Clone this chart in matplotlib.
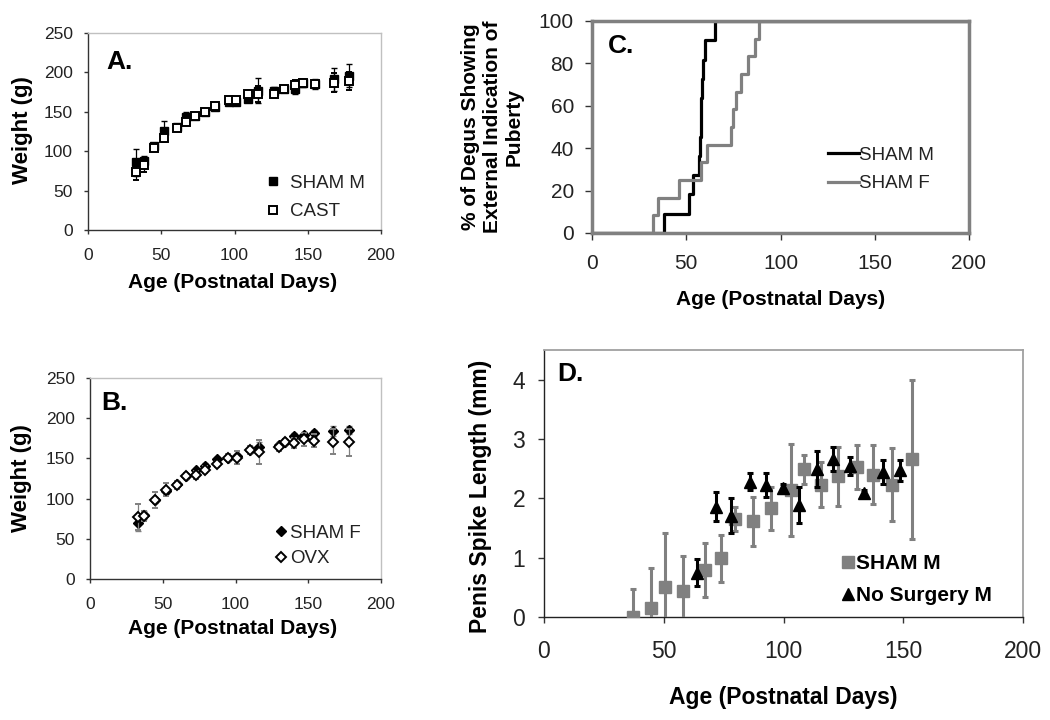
#Weight gain, puberty onset and penis spike length in degus
import matplotlib
matplotlib.use("Agg")
import matplotlib.pyplot as plt

plt.rcParams['font.family'] = ['Liberation Sans', 'DejaVu Sans']

# panel A: body weight, males (g)
ages_a = [33, 38, 45, 52, 61, 67, 73, 80, 87, 96, 101, 109, 116, 127, 134, 141, 147, 155, 168, 178]
sham_m_wt = [86, 88, 107, 126, 131, 143, 145, 150, 156, 163, 162, 166, 177, 177, 179, 179, 186, 185, 191, 196]
sham_m_err = [17, 6, 3, 12, 4, 7, 4, 3, 4, 3, 3, 4, 16, 4, 3, 6, 4, 6, 14, 15]
cast_wt = [74, 82, 104, 117, 129, 137, 145, 150, 157, 165, 165, 172, 173, 172, 179, 184, 186, 185, 187, 189]
cast_err = [11, 8, 4, 5, 3, 4, 3, 3, 3, 4, 4, 4, 10, 4, 3, 6, 5, 5, 12, 11]

# panel B: body weight, females (g)
ages_b = [33, 37, 45, 52, 60, 66, 73, 79, 87, 95, 101, 110, 116, 130, 134, 140, 147, 154, 167, 178]
sham_f_wt = [70, 80, 98, 110, 118, 128, 135, 141, 149, 151, 153, 161, 164, 167, 171, 178, 179, 181, 184, 185]
sham_f_err = [10, 5, 4, 4, 4, 3, 3, 3, 3, 3, 3, 4, 6, 3, 3, 4, 4, 4, 6, 5]
ovx_wt = [77, 78, 98, 111, 117, 128, 129, 136, 143, 151, 151, 160, 158, 164, 170, 169, 174, 172, 171, 170]
ovx_err = [16, 6, 10, 8, 5, 4, 5, 4, 4, 4, 8, 5, 15, 5, 4, 6, 8, 8, 15, 17]

# panel C: cumulative % showing puberty
sham_m_days = [0, 38, 51.5, 53.5, 56.5, 57.3, 57.7, 58, 58.5, 59, 60, 65, 200]
sham_m_pct = [0, 9.1, 18.2, 27.3, 36.4, 45.5, 54.5, 63.6, 72.7, 81.8, 90.9, 100, 100]
sham_f_days = [0, 32.5, 35, 46, 58, 61, 73.5, 75, 76.5, 79, 82.5, 86.5, 88.5, 200]
sham_f_pct = [0, 8.3, 16.7, 25, 33.3, 41.7, 50, 58.3, 66.7, 75, 83.3, 91.7, 100, 100]

# panel D: penis spike length (mm)
sham_d_age = [37, 44.5, 50.7, 57.9, 67.2, 73.9, 79.7, 87.4, 94.6, 103, 108.6, 115.5, 122.9, 130.6, 137.5, 145.2, 153.5]
sham_d_len = [0, 0.15, 0.5, 0.43, 0.79, 0.99, 1.65, 1.61, 1.83, 2.14, 2.49, 2.23, 2.37, 2.53, 2.40, 2.23, 2.66]
sham_d_err = [0.47, 0.67, 0.92, 0.6, 0.46, 0.4, 0.2, 0.41, 0.36, 0.78, 0.24, 0.38, 0.5, 0.37, 0.5, 0.61, 1.34]
nosurg_age = [63.7, 71.7, 77.9, 86, 92.7, 99.7, 106.6, 113.8, 120.8, 127.8, 133.7, 141.7, 148.6]
nosurg_len = [0.75, 1.86, 1.71, 2.28, 2.23, 2.17, 1.89, 2.49, 2.66, 2.54, 2.09, 2.45, 2.47]
nosurg_err = [0.22, 0.24, 0.3, 0.14, 0.2, 0.08, 0.3, 0.3, 0.2, 0.15, 0.05, 0.2, 0.18]

W, H = 1050, 720
fig = plt.figure(figsize=(10.5, 7.2), dpi=100)

def px_axes(left, top, right, bottom):
    return fig.add_axes([left / W, 1 - bottom / H, (right - left) / W, (bottom - top) / H])

def style_frame(ax, axis_col, frame_col, frame_lw=1.0, axis_lw=1.0):
    for s in ['left', 'bottom']:
        ax.spines[s].set_color(axis_col)
        ax.spines[s].set_linewidth(axis_lw)
    for s in ['top', 'right']:
        ax.spines[s].set_color(frame_col)
        ax.spines[s].set_linewidth(frame_lw)
    ax.tick_params(top=False, right=False, direction='out', colors='#333333',
                   labelcolor='#222222', width=1)

gray = '#808080'

# ---------------- A ----------------
axA = px_axes(88, 33, 381, 230)
axA.errorbar(ages_a, sham_m_wt, yerr=sham_m_err, fmt='s', color='black', ms=5.5,
             ecolor='black', elinewidth=0.9, capsize=2.5, label='SHAM M', zorder=3)
axA.errorbar(ages_a, cast_wt, yerr=cast_err, fmt='s', color='black', mfc='white', mew=1.4,
             ms=5.5, ecolor='black', elinewidth=0.9, capsize=2.5, label='CAST', zorder=4)
axA.set_xlim(0, 200)
axA.set_ylim(0, 250)
axA.set_xticks([0, 50, 100, 150, 200])
axA.set_yticks([0, 50, 100, 150, 200, 250])
style_frame(axA, '#333333', '#c0c0c0')
axA.tick_params(axis='x', labelsize=12.5, length=3, pad=10)
axA.tick_params(axis='y', labelsize=12.5, length=3, pad=8)
axA.set_xlabel('Age (Postnatal Days)', fontsize=15, fontweight='bold', va='center')
axA.xaxis.set_label_coords(0.495, -0.269)
axA.set_ylabel('Weight (g)', fontsize=16, fontweight='bold', va='center')
axA.yaxis.set_label_coords(-0.225, 0.508)
h, l = axA.get_legend_handles_labels()
hA = [x[0] for x in h]
axA.legend(hA, l, loc='center left', bbox_to_anchor=(0.575, 0.165), frameon=False,
           fontsize=13.5, handlelength=0.8, handletextpad=0.5, labelspacing=0.6,
           borderpad=0, labelcolor='#222222')

# ---------------- B ----------------
axB = px_axes(90, 378, 381, 579)
axB.errorbar(ages_b, sham_f_wt, yerr=sham_f_err, fmt='D', color='black', ms=5.5,
             ecolor=gray, elinewidth=0.9, capsize=2.5, label='SHAM F', zorder=3)
axB.errorbar(ages_b, ovx_wt, yerr=ovx_err, fmt='D', color='black', mfc='white', mew=1.4,
             ms=5.5, ecolor=gray, elinewidth=0.9, capsize=2.5, label='OVX', zorder=4)
axB.set_xlim(0, 200)
axB.set_ylim(0, 250)
axB.set_xticks([0, 50, 100, 150, 200])
axB.set_yticks([0, 50, 100, 150, 200, 250])
style_frame(axB, '#333333', '#c0c0c0')
axB.tick_params(axis='x', labelsize=12.5, length=3, pad=10)
axB.tick_params(axis='y', labelsize=12.5, length=3, pad=8)
axB.set_xlabel('Age (Postnatal Days)', fontsize=15, fontweight='bold', va='center')
axB.xaxis.set_label_coords(0.49, -0.244)
axB.set_ylabel('Weight (g)', fontsize=16, fontweight='bold', va='center')
axB.yaxis.set_label_coords(-0.234, 0.50)
h, l = axB.get_legend_handles_labels()
hB = [x[0] for x in h]
axB.legend(hB, l, loc='center left', bbox_to_anchor=(0.6, 0.165), frameon=False,
           fontsize=13.5, handlelength=0.7, handletextpad=0.15, labelspacing=0.45,
           borderpad=0, labelcolor='#222222')

# ---------------- C ----------------
axC = px_axes(592, 21, 969, 233)
axC.plot(sham_m_days, sham_m_pct, drawstyle='steps-post', color='black', lw=2.3,
         label='SHAM M', zorder=3)
axC.plot(sham_f_days, sham_f_pct, drawstyle='steps-post', color=gray, lw=2.3,
         label='SHAM F', zorder=4)
axC.set_xlim(0, 200)
axC.set_ylim(0, 100)
axC.set_xticks([0, 50, 100, 150, 200])
axC.set_yticks([0, 20, 40, 60, 80, 100])
for s in axC.spines.values():
    s.set_color(gray)
    s.set_linewidth(2.5)
    s.set_zorder(5)
axC.tick_params(top=False, right=False, direction='out', colors='#333333',
                labelcolor='#222222', labelsize=15, length=5, width=1)
axC.tick_params(axis='x', pad=10)
axC.tick_params(axis='y', pad=8)
axC.set_xlabel('Age (Postnatal Days)', fontsize=15, fontweight='bold', va='center')
axC.xaxis.set_label_coords(0.5, -0.316)
axC.set_ylabel('% of Degus Showing\nExternal Indication of\nPuberty', fontsize=15,
               fontweight='bold', va='center', linespacing=1.2)
axC.yaxis.set_label_coords(-0.265, 0.5)
axC.legend(loc='center left', bbox_to_anchor=(0.6, 0.30), frameon=False, fontsize=13.5,
           handlelength=1.7, handletextpad=0.0, labelspacing=0.6, borderpad=0,
           labelcolor='#222222')

# ---------------- D ----------------
axD = px_axes(544, 350, 1023, 617)
axD.errorbar(sham_d_age, sham_d_len, yerr=sham_d_err, fmt='s', color=gray, ms=9,
             ecolor=gray, elinewidth=2.2, capsize=2.5, capthick=2.2, label='SHAM M', zorder=3)
axD.errorbar(nosurg_age, nosurg_len, yerr=nosurg_err, fmt='^', color='black', ms=9,
             ecolor='black', elinewidth=2.2, capsize=2.5, capthick=2.2, label='No Surgery M',
             zorder=4)
axD.set_xlim(0, 200)
axD.set_ylim(0, 4.5)
axD.set_xticks([0, 50, 100, 150, 200])
axD.set_yticks([0, 1, 2, 3, 4])
style_frame(axD, '#222222', '#a0a0a0', frame_lw=1.3)
axD.tick_params(labelsize=16.5, length=4.5)
axD.tick_params(axis='x', pad=12)
axD.tick_params(axis='y', pad=9)
axD.set_xlabel('Age (Postnatal Days)', fontsize=16.5, fontweight='bold', va='center')
axD.xaxis.set_label_coords(0.499, -0.303)
axD.set_ylabel('Penis Spike Length (mm)', fontsize=16.5, fontweight='bold', va='center')
axD.yaxis.set_label_coords(-0.133, 0.45)
h, l = axD.get_legend_handles_labels()
hD = [x[0] for x in h]
axD.legend(hD, l, loc='center left', bbox_to_anchor=(0.598, 0.14), frameon=False,
           prop={'size': 15, 'weight': 'bold'}, handlelength=0.7, handletextpad=0.05,
           labelspacing=0.6, borderpad=0)

# panel letters
for txt, x, y in [('A.', 106, 62), ('B.', 101, 403), ('C.', 608, 46), ('D.', 557, 374)]:
    fig.text(x / W, 1 - y / H, txt, fontsize=19, fontweight='bold', va='center', ha='left')

fig.savefig('out.png', dpi=100)
